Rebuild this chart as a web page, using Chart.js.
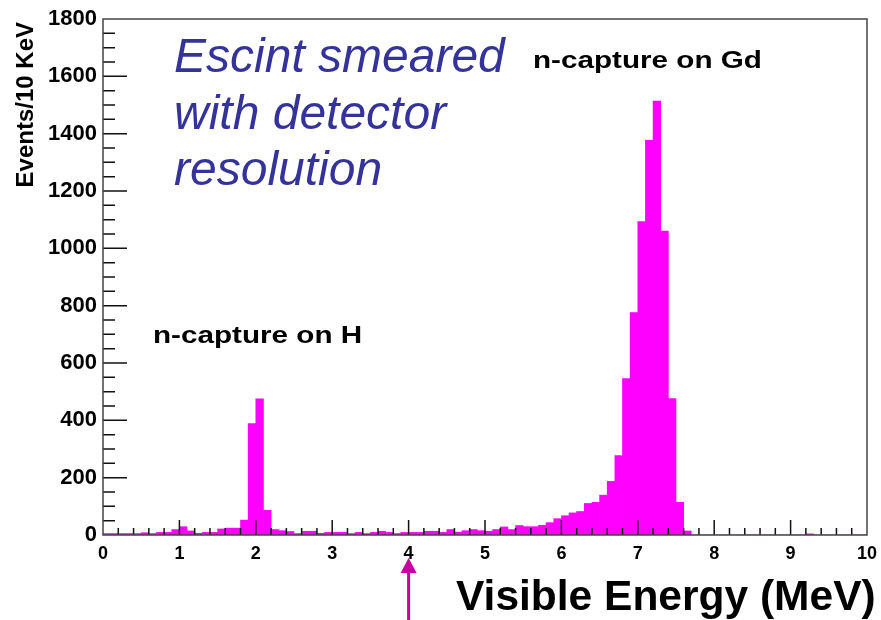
<!DOCTYPE html>
<html>
<head>
<meta charset="utf-8">
<script src="https://cdn.jsdelivr.net/npm/chart.js@4.4.1/dist/chart.umd.min.js"></script>
<style>
    html, body { margin: 0; padding: 0; background: #fff; }
    canvas { display: block; }
</style>
</head>
<body>
<canvas id="chart" width="881" height="620"></canvas>
<script>
// histogram: 100 bins of 0.1 MeV from 0 to 10 MeV
const binStart = 0;
const binWidth = 0.1;
const counts = [
    5, 5, 5, 5, 5, 8, 5, 9, 9, 19,
    29, 14, 6, 9, 9, 21, 24, 24, 52, 389,
    475, 86, 19, 15, 12, 5, 13, 13, 6, 9,
    9, 9, 5, 9, 5, 9, 13, 9, 5, 9,
    9, 9, 13, 13, 9, 19, 10, 15, 19, 15,
    13, 19, 28, 19, 33, 29, 29, 34, 43, 57,
    67, 77, 82, 110, 114, 139, 187, 277, 546, 776,
    1093, 1377, 1514, 1060, 476, 114, 14, 0, 0, 0,
    0, 0, 0, 0, 0, 0, 0, 0, 0, 0,
    0, 0, 4, 0, 0, 0, 0, 0, 0, 0
];
const xRange = [0, 10];
const yRange = [0, 1800];
const titleLines = ['Escint smeared', 'with detector', 'resolution'];
const xTitle = 'Visible Energy (MeV)';
const yTitle = 'Events/10 KeV';
const gdLabel = 'n-capture on Gd';
const hLabel = 'n-capture on H';
const arrowAt = 4; // MeV

const points = counts.map((c, i) => ({ x: binStart + (i + 0.5) * binWidth, y: c }));
const font = '"Liberation Sans", Arial, sans-serif';

// frame, inward ticks and annotations (ROOT style)
const rootStyle = {
    id: 'rootStyle',
    afterDatasetsDraw(chart) {
        const { ctx, chartArea: a, scales: { x, y } } = chart;
        ctx.save();
        ctx.strokeStyle = '#111';
        ctx.lineWidth = 1.5;
        ctx.beginPath();
        for (let v = yRange[0] + 50; v < yRange[1]; v += 50) {
            const py = y.getPixelForValue(v);
            const len = v % 200 === 0 ? 24 : 12;
            ctx.moveTo(a.left, py);
            ctx.lineTo(a.left + len, py);
        }
        for (let k = 1; k < 50; k++) {
            const px = x.getPixelForValue(k * 0.2);
            const len = k % 5 === 0 ? 15 : 7;
            ctx.moveTo(px, a.bottom);
            ctx.lineTo(px, a.bottom - len);
        }
        ctx.stroke();
        ctx.strokeStyle = '#444';
        ctx.strokeRect(a.left, a.top, a.right - a.left, a.bottom - a.top);
        ctx.restore();
    },
    afterDraw(chart) {
        const { ctx, scales: { x } } = chart;
        ctx.save();
        // title
        ctx.fillStyle = '#333399';
        ctx.font = 'italic 48px ' + font;
        ctx.textBaseline = 'alphabetic';
        titleLines.forEach((t, i) => ctx.fillText(t, 174, 72 + i * 56.5));
        // peak labels
        ctx.fillStyle = '#000';
        ctx.font = 'bold 24.5px ' + font;
        [[gdLabel, 533, 68], [hLabel, 153, 343]].forEach(([t, lx, ly]) => {
            ctx.save();
            ctx.translate(lx, ly);
            ctx.scale(1.21, 1);
            ctx.fillText(t, 0, 0);
            ctx.restore();
        });
        // axis titles
        ctx.font = 'bold 42.5px ' + font;
        ctx.fillText(xTitle, 456, 610);
        ctx.save();
        ctx.font = 'bold 24px ' + font;
        ctx.translate(33, 22);
        ctx.rotate(-Math.PI / 2);
        ctx.textAlign = 'right';
        ctx.fillText(yTitle, 0, 0);
        ctx.restore();
        // arrow
        const ax = x.getPixelForValue(arrowAt);
        ctx.strokeStyle = '#c8009e';
        ctx.fillStyle = '#c8009e';
        ctx.lineWidth = 3;
        ctx.beginPath();
        ctx.moveTo(ax, 620);
        ctx.lineTo(ax, 570);
        ctx.stroke();
        ctx.beginPath();
        ctx.moveTo(ax, 558);
        ctx.lineTo(ax - 8, 573);
        ctx.lineTo(ax + 8, 573);
        ctx.closePath();
        ctx.fill();
        ctx.restore();
    }
};

new Chart(document.querySelector('#chart').getContext('2d'), {
    type: 'bar',
    data: {
        datasets: [{
            data: points,
            backgroundColor: '#ff00ff',
            borderWidth: 0,
            barPercentage: 1,
            categoryPercentage: 1
        }]
    },
    options: {
        responsive: false,
        animation: false,
        devicePixelRatio: 1,
        layout: { padding: { left: 0, top: 19, right: 14, bottom: 0 } },
        plugins: { legend: { display: false }, tooltip: { enabled: false } },
        scales: {
            x: {
                type: 'linear',
                min: xRange[0],
                max: xRange[1],
                offset: false,
                grid: { display: false, drawTicks: false },
                border: { display: false },
                ticks: { stepSize: 1, padding: 8, color: '#000', font: { family: font, size: 18, weight: 'bold' }, callback: v => String(v) },
                afterFit: s => { s.height = 85; s.paddingLeft = 0; s.paddingRight = 0; }
            },
            y: {
                min: yRange[0],
                max: yRange[1],
                grid: { display: false, drawTicks: false },
                border: { display: false },
                ticks: { stepSize: 200, padding: 6, color: '#000', font: { family: font, size: 22, weight: 'bold' }, callback: v => String(v) },
                afterFit: s => { s.width = 103; s.paddingTop = 0; s.paddingBottom = 0; }
            }
        }
    },
    plugins: [rootStyle]
});
</script>
</body>
</html>
